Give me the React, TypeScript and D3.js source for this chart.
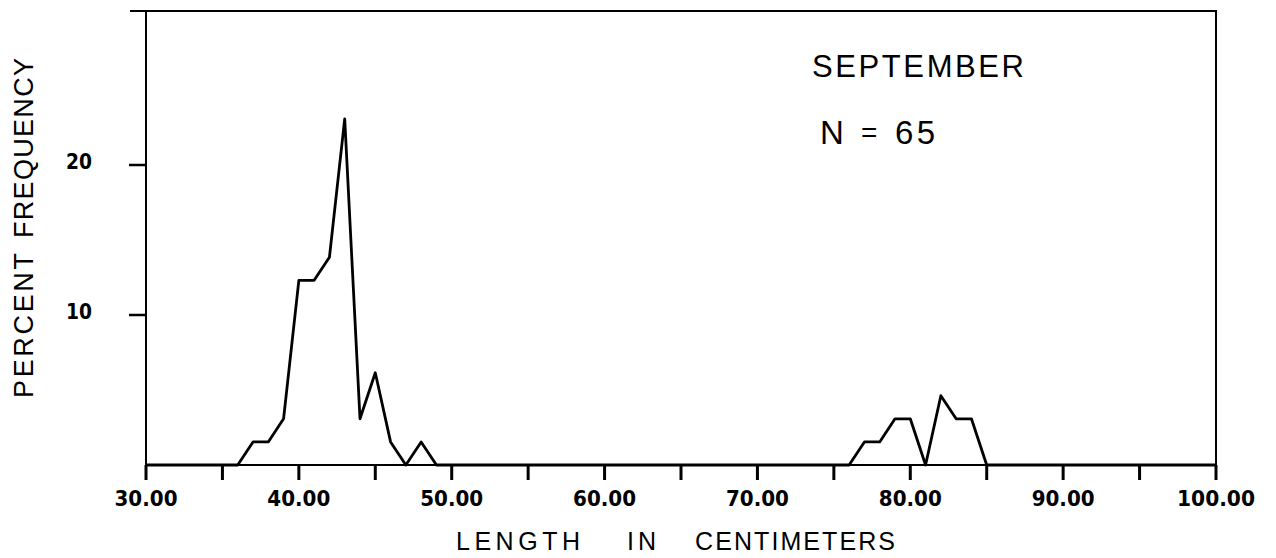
import React from "react";
import * as d3 from "d3";

const lengths = [30, 36, 37, 38, 39, 40, 41, 42, 43, 44, 45, 46, 47, 48, 49, 76, 77, 78, 79, 80, 81, 82, 83, 84, 85, 100];
const percents = [0, 0, 1.54, 1.54, 3.08, 12.31, 12.31, 13.85, 23.08, 3.08, 6.15, 1.54, 0, 1.54, 0, 0, 1.54, 1.54, 3.08, 3.08, 0, 4.62, 3.08, 3.08, 0, 0];
const xTicks = [30, 35, 40, 45, 50, 55, 60, 65, 70, 75, 80, 85, 90, 95, 100];
const xTickLabels = ["30.00", "40.00", "50.00", "60.00", "70.00", "80.00", "90.00", "100.00"];
const xLabelValues = [30, 40, 50, 60, 70, 80, 90, 100];
const yTicks = [10, 20];
const yTickLabels = ["10", "20"];

const W = 1276;
const H = 558;
const left = 146;
const right = 1216;
const bottom = 465;
const top = 11;

export default function App() {
  const x = d3.scaleLinear().domain([30, 100]).range([left, right]);
  const y = d3.scaleLinear().domain([0, 30]).range([bottom, 15]);
  const pts: [number, number][] = lengths.map((l, i) => [l, percents[i]]);
  const line = d3
    .line<[number, number]>()
    .x((d) => x(d[0]))
    .y((d) => y(d[1]));

  const sans = "'Liberation Sans', Arial, Helvetica, sans-serif";
  const bold = "'DejaVu Sans', sans-serif";

  const word = (t: string, xx: number, yy: number, len: number, fs: number) => (
    <text x={xx} y={yy} fontFamily={sans} fontSize={fs} textLength={len} lengthAdjust="spacing" fill="#000">
      {t}
    </text>
  );

  return (
    <svg
      width={W}
      height={H}
      style={{ position: "absolute", left: 0, top: 0, background: "#fff" }}
    >
      <rect x={0} y={0} width={W} height={H} fill="#fff" />
      {/* frame */}
      <line x1={130} x2={right + 1} y1={top} y2={top} stroke="#000" strokeWidth={2} />
      <line x1={left} x2={left} y1={top} y2={bottom} stroke="#000" strokeWidth={2} />
      <line x1={right} x2={right} y1={top} y2={bottom} stroke="#000" strokeWidth={2} />
      <line x1={left} x2={right} y1={bottom} y2={bottom} stroke="#000" strokeWidth={2} />

      {/* x ticks */}
      {xTicks.map((t) => (
        <line key={"xt" + t} x1={x(t)} x2={x(t)} y1={bottom} y2={bottom + 15} stroke="#000" strokeWidth={3} />
      ))}
      {xLabelValues.map((v, i) => (
        <text
          key={"xl" + v}
          x={x(v)}
          y={506}
          textAnchor="middle"
          fontFamily={bold}
          fontWeight="bold"
          fontSize={21}
          textLength={xTickLabels[i].length === 6 ? 78 : 63}
          lengthAdjust="spacingAndGlyphs"
          fill="#000"
        >
          {xTickLabels[i]}
        </text>
      ))}

      {/* y ticks */}
      {yTicks.map((t, i) => (
        <g key={"yt" + t}>
          <line x1={left - 17} x2={left} y1={y(t)} y2={y(t)} stroke="#000" strokeWidth={2.5} />
          <text
            x={92}
            y={y(t) + 4}
            textAnchor="end"
            fontFamily={bold}
            fontWeight="bold"
            fontSize={21}
            textLength={26}
            lengthAdjust="spacingAndGlyphs"
            fill="#000"
          >
            {yTickLabels[i]}
          </text>
        </g>
      ))}

      {/* data line */}
      <path d={line(pts) || ""} fill="none" stroke="#000" strokeWidth={2.8} strokeLinejoin="round" />

      {/* x axis title */}
      {word("LENGTH", 456, 550, 124, 25)}
      <text x={627} y={550} fontFamily={sans} fontSize={25} letterSpacing={4} fill="#000">
        IN
      </text>
      {word("CENTIMETERS", 695, 550, 200, 25)}

      {/* y axis title */}
      <g transform="translate(33,0) rotate(-90)">
        <text x={-398} y={0} fontFamily={sans} fontSize={27} textLength={145} lengthAdjust="spacing" fill="#000">
          PERCENT
        </text>
        <text x={-238} y={0} fontFamily={sans} fontSize={27} textLength={180} lengthAdjust="spacing" fill="#000">
          FREQUENCY
        </text>
      </g>

      {/* annotations */}
      {word("SEPTEMBER", 812, 77, 212, 31)}
      {word("N", 820, 144, 22, 33)}
      {word("=", 861, 142, 12, 28)}
      {word("65", 895, 144, 40, 33)}
    </svg>
  );
}
